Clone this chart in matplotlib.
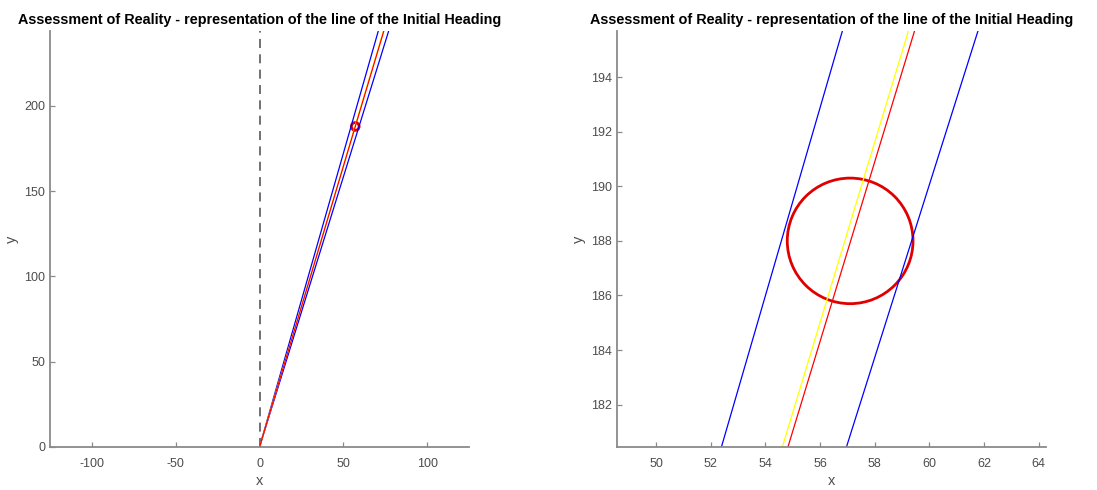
import numpy as np
import matplotlib
matplotlib.use("Agg")
import matplotlib.pyplot as plt
from matplotlib.patches import Circle

plt.rcParams['font.family'] = ['Liberation Sans', 'DejaVu Sans']
plt.rcParams['axes.unicode_minus'] = False

# headings of the lines, degrees clockwise from the y axis
heading_red = 16.90
heading_yellow = 16.84
heading_blue = [16.19, 17.52]
line_range = 320.0

# position estimate and its uncertainty circle
target_x = 57.1
target_y = 188.0
target_radius = 2.3

title = 'Assessment of Reality - representation of the line of the Initial Heading'

left_xlim = (-125, 125)
left_ylim = (0, 244)
left_xticks = [-100, -50, 0, 50, 100]
left_yticks = [0, 50, 100, 150, 200]

right_xlim = (48.57, 64.26)
right_ylim = (180.45, 195.69)
right_xticks = [50, 52, 54, 56, 58, 60, 62, 64]
right_yticks = [182, 184, 186, 188, 190, 192, 194]

axis_grey = '#8a8a8a'
text_grey = '#4d4d4d'


def heading_line(ax, deg, color):
    t = np.radians(deg)
    ax.plot([0, line_range * np.sin(t)], [0, line_range * np.cos(t)],
            color=color, lw=0.9, solid_capstyle='butt')


def draw_panel(ax, xlim, ylim, xticks, yticks, dashed_axis):
    if dashed_axis:
        ax.axvline(0, color='#666666', ls=(0, (5, 3.5)), lw=1.3)
    for h in heading_blue:
        heading_line(ax, h, '#0000ff')
    heading_line(ax, heading_yellow, '#ffff00')
    heading_line(ax, heading_red, '#ff0000')
    ax.add_patch(Circle((target_x, target_y), target_radius, fill=False,
                        ec='#e00000', lw=2))
    ax.set_xlim(*xlim)
    ax.set_ylim(*ylim)
    ax.set_xticks(xticks)
    ax.set_yticks(yticks)
    for s in ['top', 'right']:
        ax.spines[s].set_visible(False)
    for s in ['left', 'bottom']:
        ax.spines[s].set_color(axis_grey)
        ax.spines[s].set_linewidth(1.3)
    ax.tick_params(direction='in', length=3.5, width=0.9, color=axis_grey,
                   labelcolor=text_grey, labelsize=9)
    ax.tick_params(axis='x', pad=8)
    ax.tick_params(axis='y', pad=3.5)
    ax.set_xlabel('x', color=text_grey, fontsize=10.5, labelpad=3)
    ax.set_ylabel('y', color=text_grey, fontsize=10.5, labelpad=4)
    ax.set_title(title, fontsize=10.4, fontweight='bold', pad=5)


fig = plt.figure(figsize=(10.97, 4.9), dpi=100)
ax1 = fig.add_axes([0.0456, 0.0878, 0.382, 0.849])
ax2 = fig.add_axes([0.5624, 0.0878, 0.391, 0.849])

draw_panel(ax1, left_xlim, left_ylim, left_xticks, left_yticks, True)
draw_panel(ax2, right_xlim, right_ylim, right_xticks, right_yticks, False)

fig.savefig('out.png', dpi=100)
